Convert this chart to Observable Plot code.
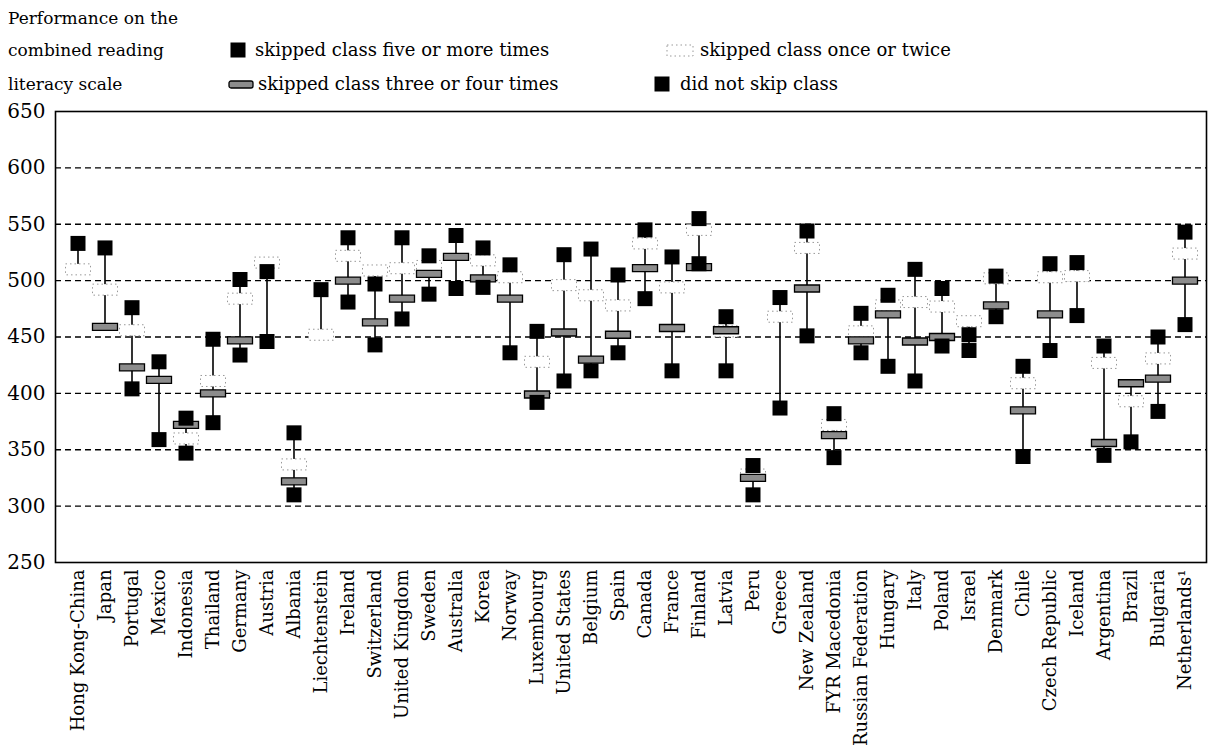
<!DOCTYPE html>
<html><head><meta charset="utf-8">
<script src="https://cdn.jsdelivr.net/npm/d3@7"></script>
<script src="https://cdn.jsdelivr.net/npm/@observablehq/plot@0.6"></script>
<style>
body{margin:0;background:#fff;font-family:"DejaVu Serif","Liberation Serif",serif;}
#wrap{position:relative;width:1211px;height:755px;overflow:hidden;}
#head{position:relative;height:100px;}
.t{position:absolute;font-size:18px;color:#000;white-space:nowrap;line-height:22px;}
.m{position:absolute;}
</style></head><body>
<div id="wrap">
<div id="head">
  <div class="t" style="left:8px;top:7px;font-size:17px">Performance on the</div>
  <div class="t" style="left:8px;top:39px;font-size:17px">combined reading</div>
  <div class="t" style="left:8px;top:73px;font-size:17px">literacy scale</div>
  <svg class="m" style="left:230px;top:42px" width="16" height="16"><rect x="0.5" y="0.5" width="15" height="15" fill="#000"/></svg>
  <div class="t" style="left:255px;top:39px">skipped class five or more times</div>
  <svg class="m" style="left:228px;top:80px" width="26" height="9"><rect x="1" y="1" width="24" height="7" rx="2" fill="#8c8c8c" stroke="#000" stroke-width="1.3"/></svg>
  <div class="t" style="left:258px;top:73px">skipped class three or four times</div>
  <svg class="m" style="left:666px;top:44px" width="28" height="13"><rect x="1" y="1" width="26" height="11" fill="#fff" stroke="#999" stroke-width="1" stroke-dasharray="1.5,3"/></svg>
  <div class="t" style="left:700px;top:39px">skipped class once or twice</div>
  <svg class="m" style="left:654px;top:76px" width="16" height="16"><rect x="0.5" y="0.5" width="15" height="15" fill="#000"/></svg>
  <div class="t" style="left:680px;top:73px">did not skip class</div>
</div>
<div id="chart"></div>
</div>
<script>
const countries = ["Hong Kong-China","Japan","Portugal","Mexico","Indonesia","Thailand","Germany","Austria","Albania","Liechtenstein","Ireland","Switzerland","United Kingdom","Sweden","Australia","Korea","Norway","Luxembourg","United States","Belgium","Spain","Canada","France","Finland","Latvia","Peru","Greece","New Zealand","FYR Macedonia","Russian Federation","Hungary","Italy","Poland","Israel","Denmark","Chile","Czech Republic","Iceland","Argentina","Brazil","Bulgaria","Netherlands¹"];
const notSkip   = [533,529,476,428,378,448,501,508,365,492,538,497,538,522,540,529,514,455,523,528,505,545,521,555,468,336,485,544,382,471,487,510,493,452,504,424,515,516,442,null,450,543];
const onceTwice = [510,492,456,null,360,411,484,516,337,452,522,509,511,513,null,518,503,428,496,487,478,533,494,545,455,328,468,529,372,455,478,481,477,464,502,409,503,504,427,393,431,524];
const threeFour = [null,459,423,412,372,400,447,null,322,null,500,463,484,506,521,502,484,399,454,430,452,511,458,512,456,325,null,493,363,447,470,446,450,null,478,385,470,null,356,409,413,500];
const fivePlus  = [null,null,404,359,347,374,434,446,310,null,481,443,466,488,493,494,436,392,411,420,436,484,420,515,420,310,387,451,343,436,424,411,442,438,468,344,438,469,345,357,384,461];
const yTicks = [250,300,350,400,450,500,550,600,650];
const gridTicks = [300,350,400,450,500,550,600];

const series = [notSkip, onceTwice, threeFour, fivePlus];
const lo = countries.map((c,i) => d3.min(series, s => s[i]));
const hi = countries.map((c,i) => d3.max(series, s => s[i]));

const sq = {draw(ctx){ ctx.rect(-7.5,-7.5,15,15); }};
const bar = {draw(ctx){ ctx.rect(-12.5,-3.5,25,7); }};
const dotted = {draw(ctx){ ctx.rect(-12.5,-5.5,25,11); }};

const font = "DejaVu Serif, Liberation Serif, serif";
const chart = Plot.plot({
  width: 1211, height: 655,
  marginTop: 11, marginBottom: 193, marginLeft: 55, marginRight: 5,
  style: {fontFamily: font, background: "#fff", color: "#000"},
  x: {type: "band", domain: countries, padding: 0, label: null},
  y: {domain: [250, 650], label: null},
  marks: [
    Plot.ruleY(gridTicks, {stroke: "#000", strokeWidth: 1.4, strokeDasharray: "6,4"}),
    Plot.ruleX(countries, {x: countries, y1: lo, y2: hi, stroke: "#000", strokeWidth: 1.6}),
    Plot.dot(countries, {x: countries, y: onceTwice, symbol: dotted, fill: "#fff", stroke: "#999", strokeWidth: 1, strokeDasharray: "1.5,3"}),
    Plot.dot(countries, {x: countries, y: threeFour, symbol: bar, fill: "#8c8c8c", stroke: "#000", strokeWidth: 1.3}),
    Plot.dot(countries, {x: countries, y: fivePlus, symbol: sq, fill: "#000", stroke: "none"}),
    Plot.dot(countries, {x: countries, y: notSkip, symbol: sq, fill: "#000", stroke: "none"}),
    Plot.frame({stroke: "#000", strokeWidth: 1.6}),
    Plot.axisY({ticks: yTicks, tickSize: 0, tickPadding: 10, fontSize: 20, fontFamily: font, label: null}),
    Plot.axisX({tickRotate: -90, tickSize: 0, tickPadding: 7, fontSize: 18, fontFamily: font, label: null})
  ]
});
document.getElementById("chart").appendChild(chart);
</script>
</body></html>
